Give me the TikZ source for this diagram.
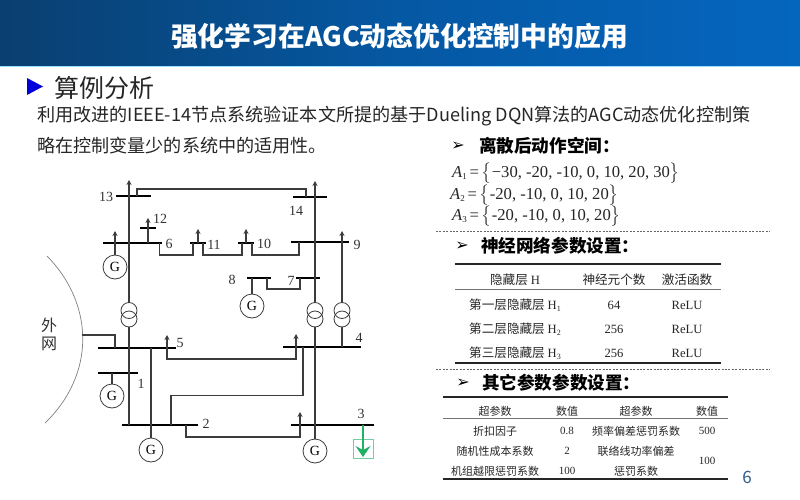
\documentclass[tikz,border=0pt]{standalone}
\usepackage{amsmath}
\usepackage{fontspec}
\setmainfont{Noto Sans CJK SC}
\newfontfamily\latinserif{Liberation Serif}
\newfontfamily\dingfont{DejaVu Sans}
\usepackage{xcolor}
\definecolor{headdark}{HTML}{0A3F70}
\definecolor{headmid}{HTML}{0558A3}
\definecolor{headlight}{HTML}{0566BF}
\definecolor{wiregray}{HTML}{3C3C3C}
\definecolor{loadgreen}{HTML}{22B066}
\definecolor{boxgreen}{HTML}{74CDA0}
\definecolor{pagenum}{HTML}{2F5B8F}
\newcommand{\fsz}[1]{\fontsize{#1}{#1}\selectfont}
\newcommand{\actset}[2]{{\latinserif\textit{A}\raisebox{-2.5pt}{\fsz{9}#1}\,=\,$\big\{$#2$\big\}$}}
\usetikzlibrary{arrows.meta,positioning}

\begin{document}
\begin{tikzpicture}[x=1pt, y=-1pt, every node/.style={inner sep=0pt},
	bus/.style={rectangle, fill=black, minimum height=2.4pt},
	wire/.style={draw=wiregray, line width=1.1pt},
	loadwire/.style={wire, -{Stealth[length=5pt,width=5pt]}},
	gen/.style={circle, draw=wiregray, line width=0.8pt, minimum size=24pt, font=\latinserif\fsz{14}},
	trans/.style={circle, draw=wiregray, line width=0.8pt, minimum size=16pt},
	buslabel/.style={font=\latinserif\fsz{14}, text=black!80},
	heading/.style={font=\bfseries\fsz{17.6}, anchor=west},
	bullet/.style={font=\dingfont\fsz{16}},
	cell/.style={font=\fsz{12.6}, text=black!85},
	smallcell/.style={font=\fsz{11}, text=black!85},
	thickrule/.style={line width=1.3pt, black!85},
	thinrule/.style={line width=0.8pt, black!55},
	split/.style={black!60, line width=0.7pt, dash pattern=on 2pt off 1.4pt}]
	\useasboundingbox (0,0) rectangle (800,500);
	\fill[white] (0,0) rectangle (800,500);

	% header
	\shade[left color=headdark, right color=headlight, middle color=headmid] (0,0) rectangle (800,66);
	\fill[blue!30!cyan!40] (0,66) rectangle (800,67.5);
	\node (title) [font=\bfseries\fsz{26.8}, text=white] at (399.5,36) {强化学习在AGC动态优化控制中的应用};
	\fill[blue!85!black] (27,78) -- (43,86.5) -- (27,95) -- cycle;
	\node (section) [font=\fsz{25}, text=black!85, anchor=west] at (54,88) {算例分析};
	\node (introa) [font=\fsz{18.1}, text=black!85, anchor=west] at (37,116.5) {利用改进的IEEE-14节点系统验证本文所提的基于Dueling DQN算法的AGC动态优化控制策};
	\node (introb) [font=\fsz{18.1}, text=black!85, anchor=west] at (37,145.5) {略在控制变量少的系统中的适用性。};

	% buses
	\foreach \name/\x/\w/\y in {13/133.5/35/196, 14/310/34/197, 12/148/16/228, 6/132.5/59/243,
		11/198/16/243, 10/246/16/243, 9/320/58/242, 7/308/24/278, 8/259/24/278,
		5/137/78/348, 4/322/78/347, 1/118/40/373, 2/160/76/425, 3/332.5/83/425}
		\node (bus\name) [bus, minimum width=\w pt] at (\x,\y) {};

	% bus labels
	\foreach \name/\x/\y in {13/106/197, 12/160/219, 6/169/244, 11/214/245, 10/264/244, 9/357/245,
		14/296/211, 8/232/280, 7/291/281, 5/180/343, 4/359/338, 1/141/384, 2/206/424, 3/361/414}
		\node (lab\name) [buslabel] at (\x,\y) {\name};

	% generators and transformers
	\node (gensix) [gen] at (115,267) {G};
	\node (geneight) [gen] at (252,306) {G};
	\node (genone) [gen] at (112,396) {G};
	\node (gentwo) [gen] at (151,450) {G};
	\node (genthree) [gen] at (315,451) {G};
	\foreach \name/\x in {l/129, m/315, r/342} {
		\node (tr\name a) [trans] at (\x,310.5) {};
		\node (tr\name b) [trans] at (\x,319) {};
	}

	% load tips
	\coordinate (tipleft) at (129,180);
	\coordinate (tipright) at (315,181);
	\coordinate (tipsix) at (115,231);
	\coordinate (tiptwelve) at (148,218);
	\coordinate (tipeleven) at (198,229);
	\coordinate (tipten) at (246,229);
	\coordinate (tipnine) at (342,231);
	\coordinate (tipfive) at (167,335);
	\coordinate (tipfour) at (296,334);
	\coordinate (tiptwo) at (186,413);
	\coordinate (tipthree) at (300,412);

	% main vertical lines
	\draw[loadwire] (trla) -- (tipleft);
	\draw[wire] (trlb) -- (bus2 -| trlb);
	\draw[loadwire] (trma) -- (tipright);
	\draw[wire] (trmb) -- (bus3 -| trmb);
	\draw[loadwire] (trra) -- (tipnine);
	\draw[wire] (trrb) -- (bus4 -| trrb);
	\draw[loadwire] (gensix) -- (tipsix);
	\draw[loadwire] (bus6 -| tiptwelve) -- (tiptwelve);
	\draw[loadwire] (bus11 -| tipeleven) -- (tipeleven);
	\draw[loadwire] (bus10 -| tipten) -- (tipten);
	\draw[wire] (geneight) -- (bus8 -| geneight);
	\draw[wire] (genone) -- (bus1 -| genone);
	\draw[wire] (gentwo) -- (bus5 -| gentwo);
	\draw[wire] (genthree) -- (bus3 -| genthree);

	% tie lines
	\draw[wire] (137,196) |- (306,189) -- (306,197);
	\draw[wire] (159.5,243) |- (193,255) -- (193,243);
	\draw[wire] (203,243) |- (242,255) -- (242,243);
	\draw[wire] (252,243) |- (299,255) -- (299,242);
	\draw[wire] (267,278) |- (300,289) -- (300,278);
	\draw[loadwire] (tipfive |- 0,348) -- (tipfive);
	\draw[loadwire] (tipfive |- 0,348) |- (296,359) -- (tipfour);
	\draw[wire] (171,425) |- (303,395.5) -- (303,347);
	\draw[loadwire] (tiptwo |- 0,425) |- (300,437) -- (tipthree);

	% outer grid
	\draw[black!50, line width=0.7pt] (47,256) .. controls (95,305) and (95,375) .. (45,423);
	\draw[wire] (81.5,335) -| (bus5 -| 115,0);
	\node (outera) [font=\fsz{16}, text=black!80] at (49,325) {外};
	\node (outerb) [font=\fsz{16}, text=black!80, below=4pt of outera] {网};

	% green load
	\draw[boxgreen, line width=0.9pt] (353,439) rectangle (373,458);
	\coordinate (tipgreen) at (363,457);
	\draw[draw=loadgreen, line width=1.1pt, -{Stealth[length=11pt,width=15pt,inset=4pt]}] (bus3 -| tipgreen) -- (tipgreen);

	% action space
	\node (bulleta) [bullet] at (458,146) {➢};
	\node (heada) [heading, right=14pt of bulleta] {离散后动作空间：};
	\node (seta) [font=\latinserif\fsz{16.6}, anchor=west, text=black!85] at (452,173) {\actset{1}{−30, -20, -10, 0, 10, 20, 30}};
	\node (setb) [font=\latinserif\fsz{16.6}, anchor=west, text=black!85] at (450,195) {\actset{2}{-20, -10, 0, 10, 20}};
	\node (setc) [font=\latinserif\fsz{16.6}, anchor=west, text=black!85] at (452,216) {\actset{3}{-20, -10, 0, 10, 20}};
	\draw[split] (436,231) -- (770,231);

	% network table
	\node (bulletb) [bullet] at (462,246) {➢};
	\node (headb) [heading, right=12pt of bulletb] {神经网络参数设置：};
	\draw[thickrule] (455,264) -- (721,264);
	\draw[thinrule] (455,289) -- (721,289);
	\draw[thickrule] (455,363) -- (721,363);
	\node (hhidden) [cell] at (515,280) {隐藏层 {\latinserif H}};
	\node (hcount) [cell] at (614,280) {神经元个数};
	\node (hact) [cell] at (687,280) {激活函数};
	\foreach \row/\y/\sub/\cn/\num in {a/305/1/一/64, b/329/2/二/256, c/353/3/三/256} {
		\node (hidden\row) [cell] at (515,\y) {第\cn 层隐藏层 {\latinserif H\raisebox{-1.5pt}{\fsz{8}\sub}}};
		\node (count\row) [cell, font=\latinserif\fsz{12.6}] at (614,\y) {\num};
		\node (act\row) [cell, font=\latinserif\fsz{12.6}] at (687,\y) {ReLU};
	}
	\draw[split] (436,369) -- (770,369);

	% other parameters table
	\node (bulletc) [bullet] at (463,383) {➢};
	\node (headc) [heading, right=12pt of bulletc] {其它参数参数设置：};
	\draw[thickrule] (443,397) -- (728,397);
	\draw[thinrule] (443,418) -- (728,418);
	\draw[thickrule] (443,479) -- (728,479);
	\node (parama) [smallcell] at (495,411) {超参数};
	\node (valuea) [smallcell] at (567,411) {数值};
	\node (paramb) [smallcell] at (636,411) {超参数};
	\node (valueb) [smallcell] at (707,411) {数值};
	\node (disc) [smallcell] at (495,431) {折扣因子};
	\node (discv) [smallcell, font=\latinserif\fsz{11}] at (567,431) {0.8};
	\node (freq) [smallcell] at (636,431) {频率偏差惩罚系数};
	\node (freqv) [smallcell, font=\latinserif\fsz{11}] at (707,431) {500};
	\node (rand) [smallcell] at (495,451) {随机性成本系数};
	\node (randv) [smallcell, font=\latinserif\fsz{11}] at (567,451) {2};
	\node (tiea) [smallcell] at (636,451) {联络线功率偏差};
	\node (tiev) [smallcell, font=\latinserif\fsz{11}] at (707,461) {100};
	\node (over) [smallcell] at (495,471) {机组越限惩罚系数};
	\node (overv) [smallcell, font=\latinserif\fsz{11}] at (567,471) {100};
	\node (tieb) [smallcell] at (636,471) {惩罚系数};
	\node (page) [font=\fsz{17}, text=pagenum] at (747,477) {6};
\end{tikzpicture}
\end{document}
